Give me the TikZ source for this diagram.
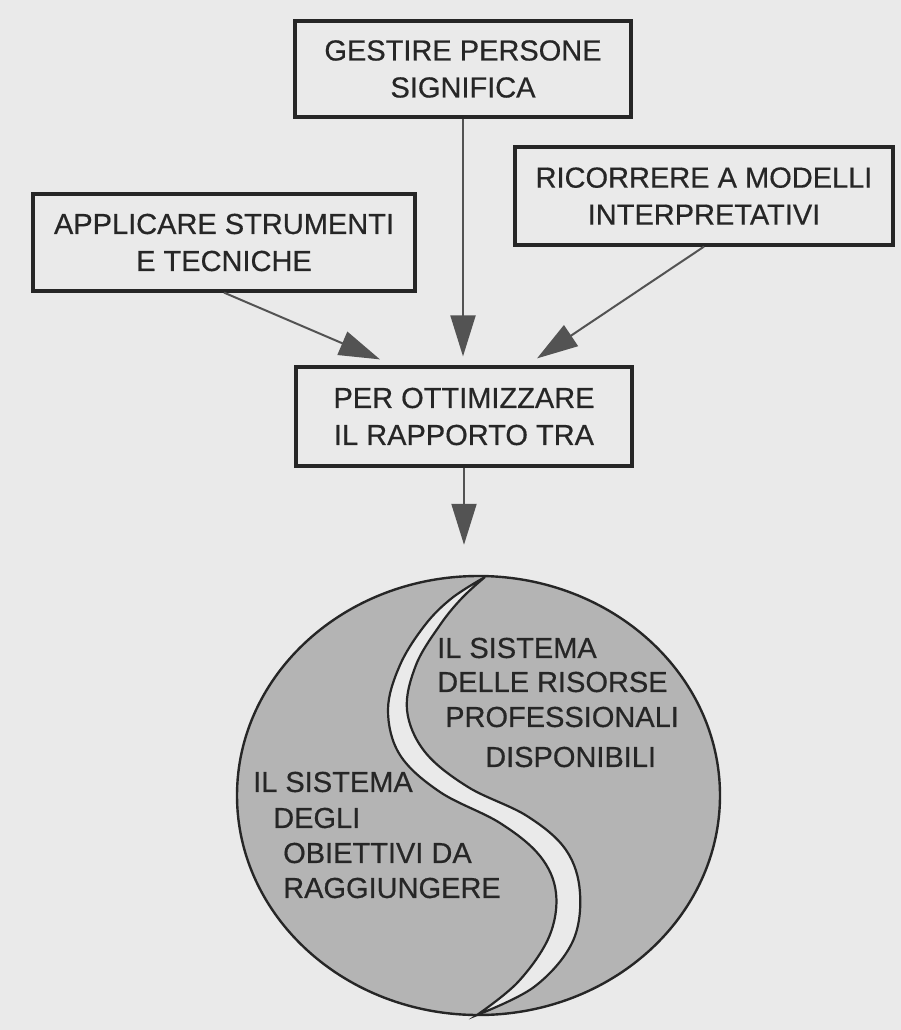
\documentclass[tikz,border=0pt]{standalone}
\usepackage{fontspec}
\setmainfont{Liberation Sans}[FakeBold=0.5]
\newfontfamily\capfont{Liberation Sans}[FakeBold=0.5]
\usetikzlibrary{arrows.meta,shapes.geometric}
\definecolor{paper}{HTML}{EAEAEA}
\definecolor{ink}{HTML}{262626}
\definecolor{lobe}{HTML}{B4B4B4}
\definecolor{arrowgray}{HTML}{535353}
\begin{document}
\begin{tikzpicture}[x=1pt,y=-1pt,
  labelfont/.style={font=\capfont\fontsize{29}{37}\selectfont},
  textbox/.style={draw=ink, line width=3.2pt, text=ink, align=center, inner sep=0pt, labelfont},
  flow/.style={draw=arrowgray, line width=2pt, -{Triangle[length=41pt,width=25pt]}},
  lobetext/.style={anchor=west, text=ink, inner sep=0pt, labelfont}]
\fill[paper] (0,0) rectangle (901,1030);
\useasboundingbox (0,0) rectangle (901,1030);

% the four boxes
\node[textbox, minimum width=336pt, minimum height=96pt] (tbox) at (463,69) {GESTIRE PERSONE\\SIGNIFICA};
\node[textbox, minimum width=378pt, minimum height=98pt] (rbox) at (704,196) {RICORRERE A MODELLI\\INTERPRETATIVI};
\node[textbox, minimum width=382pt, minimum height=97pt] (lbox) at (224,242.5) {APPLICARE STRUMENTI\\E TECNICHE};
\node[textbox, minimum width=336pt, minimum height=99pt] (mid) at (464,416.5) {PER OTTIMIZZARE\\IL RAPPORTO TRA};

% the two systems: a grey disc split by a pale S-shaped band
\node[ellipse, draw=ink, fill=lobe, line width=2.4pt, minimum width=483pt, minimum height=439pt, inner sep=0pt] (disc) at (478.5,795.5) {};
\path[fill=paper, draw=ink, line width=2.2pt]
  plot[smooth, tension=0.6] coordinates {(485,577) (452,598) (425,625) (400,665) (388,710) (400,755) (440,792) (500,823) (540,856) (556,893) (549,937) (518,982) (477,1015)}
  -- plot[smooth, tension=0.6] coordinates {(477,1015) (534,987) (572,943) (580,893) (566,850) (527,816) (468,787) (425,752) (407,710) (416,665) (440,625) (462,598) (485,577)}
  -- cycle;

% lobe captions
\node[lobetext] (r1) at (437,648) {IL SISTEMA};
\node[lobetext] (r2) at (437,682) {DELLE RISORSE};
\node[lobetext] (r3) at (445,717) {PROFESSIONALI};
\node[lobetext] (r4) at (485,757) {DISPONIBILI};
\node[lobetext] (l1) at (253,782) {IL SISTEMA};
\node[lobetext] (l2) at (273,818) {DEGLI};
\node[lobetext] (l3) at (283,853) {OBIETTIVI DA};
\node[lobetext] (l4) at (283,888) {RAGGIUNGERE};

% connectors
\draw[flow, shorten >=9pt] (tbox.south) -- (tbox.south |- mid.north);
\draw[flow] (lbox.south) -- ([xshift=-84pt, yshift=6pt]mid.north);
\draw[flow] (rbox.south) -- ([xshift=73pt, yshift=7pt]mid.north);
\draw[flow, shorten >=30pt] (mid.south) -- (mid.south |- disc.north);
\end{tikzpicture}
\end{document}
